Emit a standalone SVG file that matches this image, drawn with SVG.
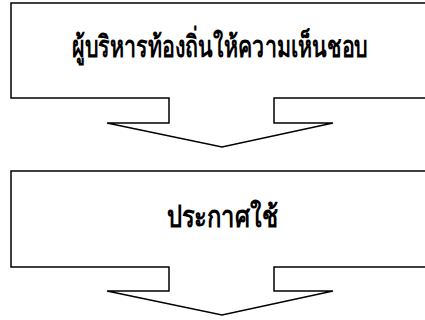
<svg xmlns="http://www.w3.org/2000/svg" width="425" height="320" viewBox="0 0 425 320">
<style>
.box{fill:#fff;stroke:#000;stroke-width:1.5;stroke-linejoin:miter}
.t{font-family:"Noto Sans","DejaVu Sans",sans-serif;font-size:30px;font-weight:bold;fill:#000;text-anchor:middle}
</style>
<rect width="425" height="320" fill="#fff"/>
<g id="node1">
<path class="box" d="M11,3 H428 V98 H274 V123 H333 L222,147 L107,123 H169 V98 H11 Z"/>
<text class="t" x="220" y="57" textLength="296" lengthAdjust="spacingAndGlyphs">ผู้บริหารท้องถิ่นให้ความเห็นชอบ</text>
</g>
<g id="node2">
<path class="box" d="M11,171 H428 V267 H274 V291 H333 L222,315 L107,291 H169 V267 H11 Z"/>
<text class="t" x="222" y="227" textLength="111" lengthAdjust="spacingAndGlyphs">ประกาศใช้</text>
</g>
<g id="connectors"></g>
</svg>
